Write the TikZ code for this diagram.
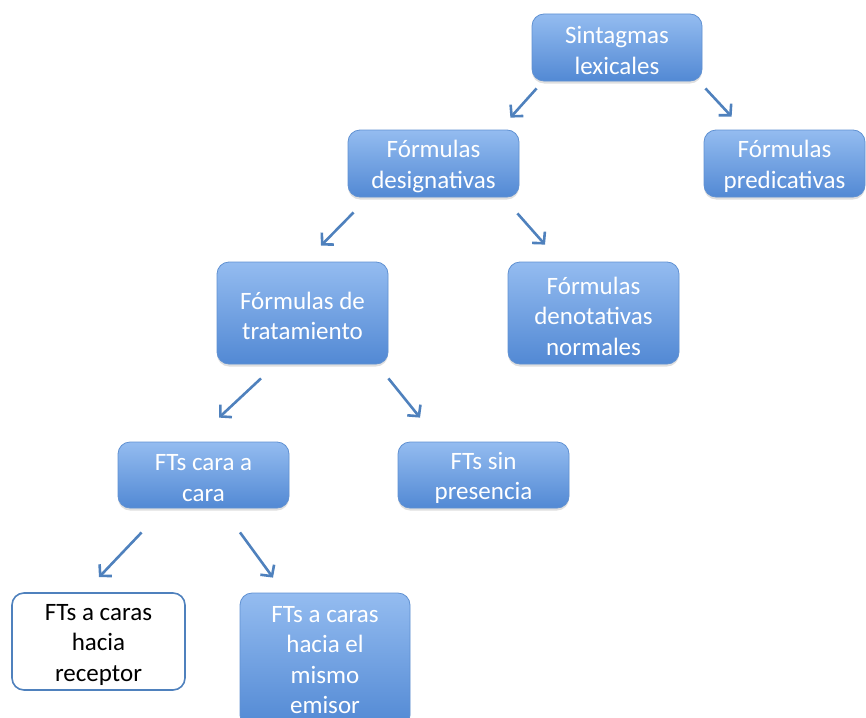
\documentclass[tikz,border=0pt]{standalone}
\usepackage{fontspec}
\setmainfont{Carlito}
\usetikzlibrary{arrows.meta,calc,shadows}
\definecolor{boxtop}{RGB}{148,188,240}
\definecolor{boxbot}{RGB}{82,137,212}
\definecolor{boxedge}{RGB}{96,145,210}
\definecolor{arrowblue}{RGB}{79,129,189}
\tikzset{
  box/.style={rounded corners=12pt, draw=boxedge, line width=0.8pt,
    top color=boxtop, bottom color=boxbot, inner sep=0pt,
    drop shadow={opacity=0.25, shadow xshift=0pt, shadow yshift=-2.5pt}},
  plainbox/.style={rounded corners=12pt, draw=arrowblue, line width=1.6pt,
    fill=white, inner sep=0pt},
  boxtext/.style={text=white, align=center, inner sep=0pt, yshift=-3pt,
    font=\fontsize{25}{30.5}\selectfont},
  darktext/.style={boxtext, text=black},
  link/.style={draw=arrowblue, line width=2.6pt,
    -{Straight Barb[length=8pt,width=17pt,line width=2.6pt]}}
}
\begin{document}
\begin{tikzpicture}[x=1pt,y=-1pt]
  \useasboundingbox (0,0) rectangle (866,717);
  \clip (0,0) rectangle (866,717);
  % boxes, each carrying its text as a centred label
  \node[box, minimum width=170pt, minimum height=67pt,
        label={[boxtext]center:{Sintagmas\\lexicales}}] (sl) at (617,47.5) {};
  \node[box, minimum width=161pt, minimum height=67pt,
        label={[boxtext]center:{Fórmulas\\predicativas}}] (fp) at (784.5,163.5) {};
  \node[box, minimum width=171pt, minimum height=67pt,
        label={[boxtext]center:{Fórmulas\\designativas}}] (fd) at (433.5,163.5) {};
  \node[box, minimum width=171pt, minimum height=102pt,
        label={[boxtext]center:{Fórmulas de\\tratamiento}}] (ft) at (302.5,313) {};
  \node[box, minimum width=171pt, minimum height=102pt,
        label={[boxtext]center:{Fórmulas\\denotativas\\normales}}] (fdn) at (593.5,313) {};
  \node[box, minimum width=171pt, minimum height=66pt,
        label={[boxtext]center:{FTs cara a\\cara}}] (fc) at (203.5,475) {};
  \node[box, minimum width=171pt, minimum height=66pt,
        label={[boxtext]center:{FTs sin\\presencia}}] (fs) at (483.5,475) {};
  \node[plainbox, minimum width=173pt, minimum height=97pt,
        label={[darktext]center:{FTs a caras\\hacia\\receptor}}] (fr) at (98.5,641.5) {};
  \node[box, minimum width=170pt, minimum height=134pt,
        label={[boxtext, yshift=3pt]center:{FTs a caras\\hacia el\\mismo\\emisor}}] (fe) at (325,660) {};
  % connectors
  \draw[link] ($(sl.south west)+(5,7)$) -- ($(fd.north east)+(-9,-12)$);
  \draw[link] ($(sl.south east)+(3,7)$) -- ($(fp.north west)+(28,-13)$);
  \draw[link] ($(fd.south west)+(6,15)$) -- ($(ft.north)+(18.5,-16)$);
  \draw[link] ($(fd.south east)+(-2,16)$) -- ($(fdn.north)+(-48.5,-17)$);
  \draw[link] ($(ft.south)+(-41.5,14)$) -- ($(fc.north)+(15.5,-24)$);
  \draw[link] ($(ft.south east)+(0,14)$) -- ($(fs.north)+(-63.5,-24)$);
  \draw[link] ($(fc.south west)+(24,24)$) -- ($(fr.north)+(0.5,-15)$);
  \draw[link] ($(fc.south)+(36.5,24)$) -- ($(fe.north)+(-52,-15)$);
\end{tikzpicture}
\end{document}
